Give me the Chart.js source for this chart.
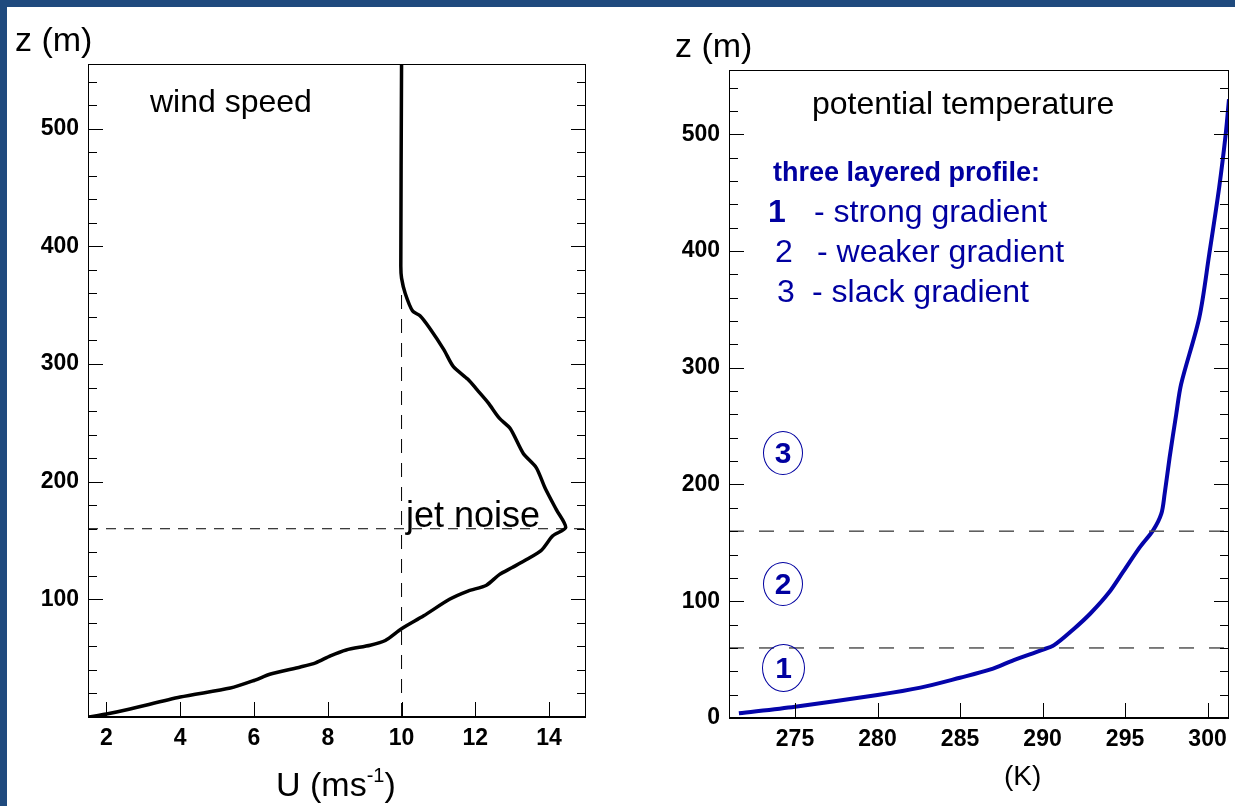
<!DOCTYPE html>
<html>
<head>
<meta charset="utf-8">
<script src="https://cdn.jsdelivr.net/npm/chart.js@4/dist/chart.umd.min.js"></script>
<style>
  body { margin: 0; width: 1235px; height: 806px; position: relative; overflow: hidden; background: #fff;
         font-family: "Liberation Sans", Arial, sans-serif; }
  .band { position: absolute; background: #1f4a7e; z-index: 3; }
  .box { position: absolute; top: 0; height: 806px; }
  .lbl { position: absolute; line-height: 1; white-space: nowrap; z-index: 4; color: #000; }
  .blue { color: #0000a0; }
  .circ { position: absolute; border: 1px solid #0000a0; border-radius: 50%; color: #0000a0;
          font-weight: bold; font-size: 30px; display: flex; align-items: center; justify-content: center;
          z-index: 4; box-sizing: border-box; }
</style>
</head>
<body>
<div class="band" style="left:0;top:0;width:1235px;height:7px"></div>
<div class="band" style="left:0;top:0;width:7px;height:806px"></div>

<div class="box" style="left:0;width:620px"><canvas id="windChart" width="620" height="806"></canvas></div>
<div class="box" style="left:620px;width:615px"><canvas id="thetaChart" width="615" height="806"></canvas></div>

<div class="lbl" style="left:15px;top:22px;font-size:34px">z (m)</div>
<div class="lbl" style="left:150px;top:85px;font-size:32px">wind speed</div>
<div class="lbl" style="left:406px;top:497px;font-size:36px">jet noise</div>
<div class="lbl" style="left:276px;top:765px;font-size:34px">U (ms<sup style="font-size:20px;vertical-align:14px">-1</sup>)</div>

<div class="lbl" style="left:675px;top:28px;font-size:34px">z (m)</div>
<div class="lbl" style="left:812px;top:87px;font-size:32px">potential temperature</div>
<div class="lbl" style="left:1004px;top:762px;font-size:28px">(K)</div>
<div class="lbl blue" style="left:773px;top:159px;font-size:27px;font-weight:bold">three layered profile:</div>
<div class="lbl blue" style="left:768px;top:195px;font-size:32px"><b>1</b></div>
<div class="lbl blue" style="left:814px;top:195px;font-size:32px">- strong gradient</div>
<div class="lbl blue" style="left:775px;top:235px;font-size:32px">2</div>
<div class="lbl blue" style="left:817px;top:235px;font-size:32px">- weaker gradient</div>
<div class="lbl blue" style="left:777px;top:275px;font-size:32px">3</div>
<div class="lbl blue" style="left:812px;top:275px;font-size:32px">- slack gradient</div>
<div class="circ" style="left:763px;top:431px;width:40px;height:44px">3</div>
<div class="circ" style="left:763px;top:562px;width:40px;height:44px">2</div>
<div class="circ" style="left:762px;top:644px;width:43px;height:48px">1</div>

<script>
// wind speed profile U(z)
const windU = [1.52, 2.0, 2.64, 4.0, 5.36, 6.0, 6.45, 7.26, 7.67, 8.07, 8.5, 9.15, 9.56, 10.0,
    10.6, 11.3, 11.8, 12.3, 12.65, 13.0, 13.4, 13.8, 14.1, 14.45, 14.2, 13.9, 13.65, 13.3,
    12.95, 12.65, 12.35, 12.05, 11.8, 11.4, 11.15, 10.75, 10.5, 10.3, 10.1, 10.0, 9.98, 10.0];
const windZ = [0, 2.5, 6.8, 17, 24.6, 31, 36.5, 42.5, 46, 52, 57, 61, 65, 75,
    86, 100, 107, 112, 121, 127, 134, 142, 154, 161, 176, 194, 212, 224,
    245, 254, 267, 278, 287, 298, 312, 331, 341, 345, 360, 373, 383, 555];

// potential temperature profile theta(z)
const thetaK = [271.6, 275.0, 280.0, 282.6, 285.0, 286.85, 288.26, 289.9, 290.7, 291.86, 292.9,
    294.0, 294.9, 295.9, 296.7, 297.2, 297.4, 297.7, 298.1, 298.4, 299.5, 300.1, 300.7, 301.1, 301.3];
const thetaZ = [4, 9.7, 19.7, 26, 34.5, 41.6, 49.6, 58, 62.4, 75.8, 89.5,
    107, 125.6, 146.4, 160.7, 175, 192, 223, 260, 286, 343, 397, 454, 500, 530];

// reference levels
const geoWind = 10;        // U above the jet
const jetTopZ = 383;
const jetZ = 160;
const layerTops = [60, 160];

// axes
const uTicks = [2, 4, 6, 8, 10, 12, 14];
const thetaTicks = [275, 280, 285, 290, 295, 300];
const windZLabels = [100, 200, 300, 400, 500];
const thetaZLabels = [0, 100, 200, 300, 400, 500];
const zMinor = [0, 20, 40, 60, 80, 100, 120, 140, 160, 180, 200, 220, 240, 260, 280, 300, 320,
    340, 360, 380, 400, 420, 440, 460, 480, 500, 520, 540];

const tickFont = { family: "'Liberation Sans', Arial, sans-serif", size: 23, weight: 'bold' };

const frameTicks = {
    id: 'frameTicks',
    afterDraw(chart) {
        const { ctx, chartArea: a, scales: { x, y } } = chart;
        ctx.save();
        ctx.strokeStyle = '#000';
        ctx.lineWidth = 1;
        ctx.strokeRect(a.left + 0.5, a.top + 0.5, a.right - a.left - 1, a.bottom - a.top);
        ctx.lineWidth = 2;
        ctx.beginPath();
        ctx.moveTo(a.left, a.bottom);
        ctx.lineTo(a.right, a.bottom);
        ctx.stroke();
        ctx.lineWidth = 1;
        ctx.beginPath();
        y.ticks.forEach(t => {
            const py = Math.round(y.getPixelForValue(t.value)) + 0.5;
            const len = t.label ? 15 : 9;
            ctx.moveTo(a.left, py); ctx.lineTo(a.left + len, py);
            ctx.moveTo(a.right, py); ctx.lineTo(a.right - len, py);
        });
        x.ticks.forEach(t => {
            const px = Math.round(x.getPixelForValue(t.value)) + 0.5;
            ctx.moveTo(px, a.bottom); ctx.lineTo(px, a.bottom - 15);
        });
        ctx.stroke();
        ctx.restore();
    }
};

function makeChart(canvas, cfg) {
    return new Chart(canvas, {
        type: 'scatter',
        data: { datasets: cfg.datasets },
        options: {
            responsive: false,
            animation: false,
            devicePixelRatio: 1,
            layout: { padding: { top: cfg.top, right: cfg.right, bottom: 0, left: 0 } },
            plugins: { legend: { display: false }, tooltip: { enabled: false } },
            elements: { point: { radius: 0 } },
            scales: {
                x: {
                    type: 'linear', min: cfg.xMin, max: cfg.xMax,
                    grid: { display: false, drawTicks: false }, border: { display: false },
                    afterBuildTicks: s => { s.ticks = cfg.xTicks.map(v => ({ value: v })); },
                    afterFit: s => { s.height = cfg.xHeight; },
                    ticks: { font: tickFont, color: '#000', padding: 8, autoSkip: false, maxRotation: 0 }
                },
                y: {
                    type: 'linear', min: 0, max: 555,
                    grid: { display: false, drawTicks: false }, border: { display: false },
                    afterBuildTicks: s => { s.ticks = zMinor.map(v => ({ value: v })); },
                    afterFit: s => { s.width = cfg.yWidth; },
                    ticks: {
                        font: tickFont, color: '#000', padding: 9, autoSkip: false,
                        callback: v => cfg.yLabels.includes(v) ? String(v) : ''
                    }
                }
            }
        },
        plugins: [frameTicks]
    });
}

document.addEventListener("DOMContentLoaded", () => {
    let windPts = windU.map((u, i) => ({ x: u, y: windZ[i] }));
    let thetaPts = thetaK.map((t, i) => ({ x: t, y: thetaZ[i] }));

    makeChart(document.getElementById("windChart"), {
        xMin: 1.5, xMax: 15, xTicks: uTicks, yLabels: windZLabels,
        top: 64, right: 34, yWidth: 88, xHeight: 89,
        datasets: [
            { data: [{ x: 1.5, y: jetZ }, { x: 15, y: jetZ }], showLine: true,
              borderColor: '#000', borderWidth: 1, borderDash: [10, 8] },
            { data: [{ x: geoWind, y: 0 }, { x: geoWind, y: jetTopZ }], showLine: true,
              borderColor: '#000', borderWidth: 1, borderDash: [14, 10] },
            { data: windPts, showLine: true, borderColor: '#000', borderWidth: 3.5, tension: 0.25 }
        ]
    });

    makeChart(document.getElementById("thetaChart"), {
        xMin: 271, xMax: 301.3, xTicks: thetaTicks, yLabels: thetaZLabels,
        top: 70, right: 6, yWidth: 109, xHeight: 88,
        datasets: layerTops.map(z => ({
            data: [{ x: 271, y: z }, { x: 301.3, y: z }], showLine: true,
            borderColor: '#555', borderWidth: 1.5, borderDash: [15, 15]
        })).concat([
            { data: thetaPts, showLine: true, borderColor: '#0404aa', borderWidth: 4, tension: 0.3 }
        ])
    });
});
</script>
</body>
</html>
